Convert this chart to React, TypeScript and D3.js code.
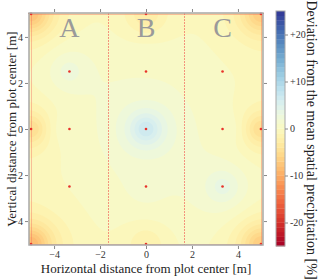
import React, { useEffect, useRef } from "react";
import * as d3 from "d3";

// sensor positions [m] and deviation from spatial mean [%]
const sensorX = [-3.33, -3.33, -3.33, 0, 0, 0, 0, 0, 3.33, 3.33, 3.33, -5, -5, -5, 5, 5, 5];
const sensorY = [2.5, 0, -2.5, 5, 2.5, 0, -2.5, -5, 2.5, 0, -2.5, 5, 0, -5, 5, 0, -5];
const sensorVal = [2.5, 1, 0, -3, 1, 7, 1.5, -2, 0, 1, 3.5, -8, -5, -9, -7, -5, -7];

const plotLabels = ["A", "B", "C"];
const plotCenters = [-3.33, 0, 3.33];
const plotBorders = [-5 / 3, 5 / 3];
const axisTicks = [-4, -2, 0, 2, 4];
const cbTicks = [20, 10, 0, -10, -20];

const App: React.FC = () => {
  const svgRef = useRef<SVGSVGElement | null>(null);

  useEffect(() => {
    const width = 320;
    const height = 279;
    const left = 29;
    const right = 263;
    const top = 13;
    const bottom = 245;
    const svg = d3.select(svgRef.current).attr("width", width).attr("height", height);
    svg.selectAll("*").remove();

    const x = d3.scaleLinear().domain([-5.09, 5.09]).range([left, right]);
    const y = d3.scaleLinear().domain([-5.04, 5.04]).range([bottom, top]);
    const color = (v: number) => d3.interpolateRdYlBu((v + 25) / 50);

    // interpolated field (inverse distance weighting, with a weak pull to the mean)
    const bgWeight = 0.8;
    const bgValue = 1.5;
    const nx = right - left;
    const ny = bottom - top;
    const grid = new Array(nx * ny);
    for (let j = 0; j < ny; j++) {
      const wy = y.invert(top + j + 0.5);
      for (let i = 0; i < nx; i++) {
        const wx = x.invert(left + i + 0.5);
        let sw = bgWeight;
        let sv = bgWeight * bgValue;
        for (let k = 0; k < sensorX.length; k++) {
          const d2 = (wx - sensorX[k]) ** 2 + (wy - sensorY[k]) ** 2 + 1e-6;
          const w = 1 / d2;
          sw += w;
          sv += w * sensorVal[k];
        }
        grid[j * nx + i] = sv / sw;
      }
    }
    const thresholds = d3.range(-25, 25, 1);
    const contours = d3.contours().size([nx, ny]).thresholds(thresholds)(grid);
    const path = d3.geoPath(d3.geoIdentity().translate([left, top]));

    const g = svg.append("g");
    g.selectAll("path")
      .data(contours)
      .enter()
      .append("path")
      .attr("d", (d: any) => path(d))
      .attr("fill", (d: any) => color(d.value + 0.5))
      .attr("stroke", "none");

    // perimeter (dotted) and plot borders
    const red = "#f26a5c";
    g.append("rect")
      .attr("x", Math.round(x(-5)) + 0.5)
      .attr("y", Math.round(y(5)) + 0.5)
      .attr("width", Math.round(x(5)) - Math.round(x(-5)))
      .attr("height", Math.round(y(-5)) - Math.round(y(5)))
      .attr("fill", "none")
      .attr("stroke", red)
      .attr("stroke-opacity", 0.8)
      .attr("stroke-dasharray", "1,1");
    g.selectAll(".border")
      .data(plotBorders)
      .enter()
      .append("line")
      .attr("x1", (d) => Math.round(x(d)) + 0.5)
      .attr("x2", (d) => Math.round(x(d)) + 0.5)
      .attr("y1", top)
      .attr("y2", bottom)
      .attr("stroke", red)
      .attr("stroke-opacity", 0.7)
      .attr("stroke-dasharray", "2,1");

    // plot letters
    g.selectAll(".lbl")
      .data(plotLabels)
      .enter()
      .append("text")
      .attr("x", (_, i) => x(plotCenters[i]))
      .attr("y", 37)
      .attr("text-anchor", "middle")
      .attr("font-family", "Liberation Serif, serif")
      .attr("font-size", 28)
      .attr("fill", "#9a9a9a")
      .text((d) => d);

    // sensors
    g.selectAll(".pt")
      .data(sensorX)
      .enter()
      .append("circle")
      .attr("cx", (d) => x(d))
      .attr("cy", (_, i) => y(sensorY[i]))
      .attr("r", 1.3)
      .attr("fill", "#e8322a");

    // frame
    svg
      .append("rect")
      .attr("x", left)
      .attr("y", top)
      .attr("width", right - left)
      .attr("height", bottom - top)
      .attr("fill", "none")
      .attr("stroke", "#a8a8a8")
      .attr("stroke-width", 1.5);

    const font = "Liberation Serif, serif";
    const styleAxis = (sel: any) => {
      sel.select(".domain").remove();
      sel.selectAll("line").attr("stroke", "#888");
      sel.selectAll("text").attr("font-family", font).attr("font-size", 10).attr("fill", "#333");
    };
    svg.append("g").attr("transform", `translate(0,${bottom + 1})`)
      .call(d3.axisBottom(x).tickValues(axisTicks).tickSize(3).tickPadding(2).tickFormat(d3.format("d")))
      .call(styleAxis);
    svg.append("g").attr("transform", `translate(0,${top - 1})`)
      .call(d3.axisTop(x).tickValues(axisTicks).tickSize(3).tickFormat(() => ""))
      .call(styleAxis);
    svg.append("g").attr("transform", `translate(${left - 1},0)`)
      .call(d3.axisLeft(y).tickValues(axisTicks).tickSize(3).tickPadding(2).tickFormat(d3.format("d")))
      .call(styleAxis);
    svg.append("g").attr("transform", `translate(${right + 1},0)`)
      .call(d3.axisRight(y).tickValues(axisTicks).tickSize(3).tickFormat(() => ""))
      .call(styleAxis);

    svg.append("text")
      .attr("x", x(0))
      .attr("y", 273)
      .attr("text-anchor", "middle")
      .attr("font-family", font)
      .attr("font-size", 13)
      .attr("fill", "#222")
      .text("Horizontal distance from plot center [m]");
    svg.append("text")
      .attr("transform", `translate(16,${y(0)}) rotate(-90)`)
      .attr("text-anchor", "middle")
      .attr("font-family", font)
      .attr("font-size", 13)
      .attr("fill", "#222")
      .text("Vertical distance from plot center [m]");

    // colorbar
    const cbX = 276;
    const cbW = 9;
    const cy = d3.scaleLinear().domain([-25, 25]).range([246, 11]);
    const steps = d3.range(-25, 25, 1);
    svg.append("g")
      .selectAll("rect")
      .data(steps)
      .enter()
      .append("rect")
      .attr("x", cbX)
      .attr("y", (d) => cy(d + 1))
      .attr("width", cbW)
      .attr("height", (d) => cy(d) - cy(d + 1) + 0.3)
      .attr("fill", (d) => color(d + 0.5));
    svg.append("rect")
      .attr("x", cbX)
      .attr("y", cy(25))
      .attr("width", cbW)
      .attr("height", cy(-25) - cy(25))
      .attr("fill", "none")
      .attr("stroke", "#a8a8a8")
      .attr("stroke-width", 1);
    svg.append("g").attr("transform", `translate(${cbX + cbW},0)`)
      .call(d3.axisRight(cy).tickValues(cbTicks).tickSize(3).tickPadding(2)
        .tickFormat((d: any) => (d > 0 ? "+" + d : String(d))))
      .call(styleAxis);
    svg.append("text")
      .attr("transform", `translate(307,140) rotate(90)`)
      .attr("text-anchor", "middle")
      .attr("font-family", font)
      .attr("font-size", 14)
      .attr("fill", "#222")
      .text("Deviation from the mean spatial precipitation [%]");
  }, []);

  return (
    <svg ref={svgRef} style={{ position: "absolute", left: 0, top: 0 }}></svg>
  );
};

export default App;
